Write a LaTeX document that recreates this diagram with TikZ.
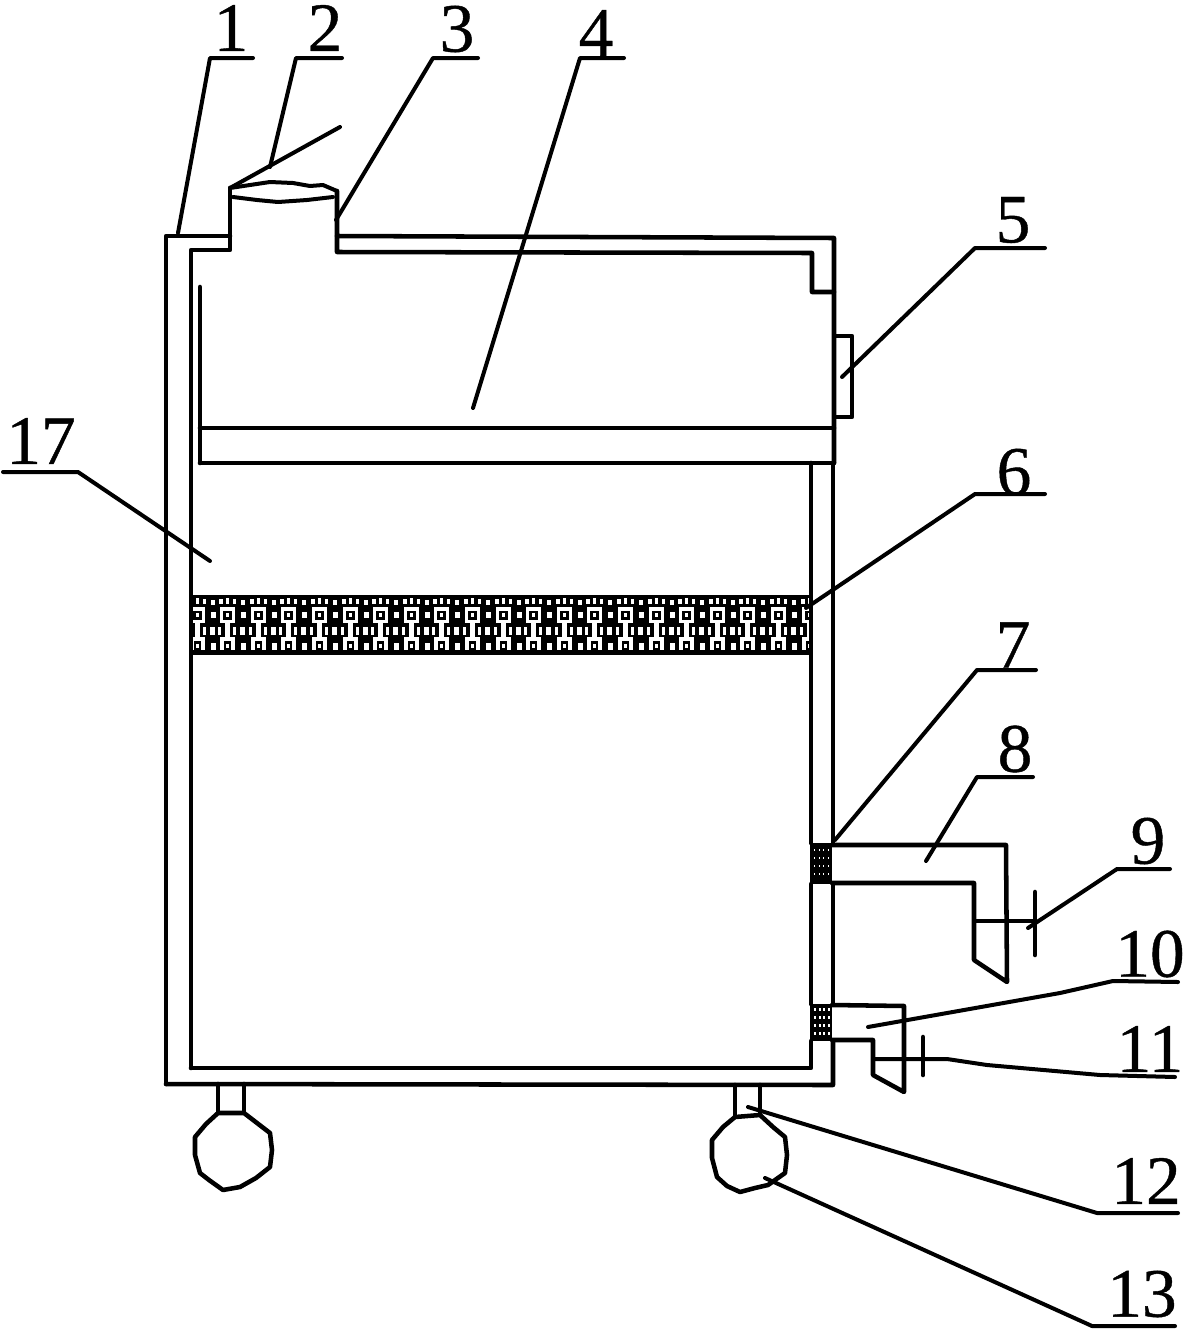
\documentclass[tikz,border=0pt]{standalone}
\usepackage{fontspec}
\setmainfont[FakeBold=0.6]{Liberation Serif}
\usetikzlibrary{shapes.geometric}
\tikzset{
  wall/.style={line width=3.4pt,line join=round,line cap=round},
  thin line/.style={line width=3pt,line join=round,line cap=round},
  num/.style={font=\fontsize{52}{52}\selectfont,inner sep=0pt,text=black},
}
\begin{document}
\begin{tikzpicture}[x=0.75pt,y=-0.75pt]
\useasboundingbox (0,0) rectangle (1185,1332);
% filter
\begin{scope}
\clip (190,595) rectangle (811,655);
\fill[black] (190,595) rectangle (811,655);
\foreach \i in {0,...,20}{
  \pgfmathsetmacro{\xx}{187.5+30.6*\i}
  % top pips
  \fill[white] (\xx+1,599) rectangle +(4,5);
  \fill[white] (\xx+8,598) rectangle +(3,6);
  \fill[white] (\xx+15,599) rectangle +(3,5);
  \fill[white] (\xx+23,600) rectangle +(4,5);
  % ring
  \fill[white] (\xx+2,607) rectangle +(15,16);
  \fill[black] (\xx+5,611) rectangle +(9,9);
  \fill[white] (\xx+8,613) rectangle +(3,4);
  \fill[white] (\xx+23,612) rectangle +(5,6);
  % stem and side bars
  \fill[white] (\xx+7,623) rectangle +(5,15);
  \fill[white] (\xx+0,627) rectangle +(3,8);
  \fill[white] (\xx+15,627) rectangle +(3,8);
  \fill[white] (\xx+22,627) rectangle +(5,8);
  % foot
  \fill[white] (\xx+2,637) rectangle +(15,13);
  \fill[black] (\xx+6,641) rectangle +(7,9);
  \fill[white] (\xx+8,644) rectangle +(3,4);
  \fill[white] (\xx+23,643) rectangle +(5,7);
}
\end{scope}
% dark patches
\fill[black] (810,843) rectangle (832,884);
\fill[black] (810,1004) rectangle (832,1041);
\foreach \a in {0,1,2,3}{\foreach \b in {0,1,2,3}{
  \fill[white] (814+4.5*\a,1008+8*\b) rectangle +(2.2,2.6);
  \fill[white] (814+4.5*\a,849+8*\b) rectangle +(1.2,1.5);
}}
% body
\draw[wall] (191,1068) -- (191,250) -- (230,250) -- (230,188);
\draw[wall] (166,1084) -- (166,236) -- (230,236);
\draw[wall] (337,191) -- (337,252) -- (812,253) -- (812,292) -- (834,292);
\draw[wall] (337,236) -- (834,238) -- (834,463);
\draw[wall] (166,1084) -- (833,1085) -- (833,1041);
\draw[wall] (833,1004) -- (833,884);
\draw[wall] (833,843) -- (833,463);
\draw[wall] (191,1068) -- (811,1068) -- (811,1041);
\draw[wall] (811,1004) -- (811,884);
\draw[wall] (811,843) -- (811,463);
% lid
\draw[thin line] (230,188) -- (340,127);
\draw[thin line] (230,188) -- (250,185) -- (270,182) -- (293,183) -- (310,186) -- (323,185) -- (337,191);
\draw[thin line] (233,197) -- (257,200) -- (278,202) -- (307,200) -- (333,197);
% drawer
\draw[wall] (200,287) -- (200,463);
\draw[wall] (200,428) -- (834,428);
\draw[wall] (200,463) -- (834,463);
% item 5
\draw[wall] (836,336) -- (852,336) -- (852,417) -- (836,417);
% pipe 8
\draw[wall] (832,845) -- (1006,845) -- (1007,982) -- (974,960) -- (974,883) -- (832,883);
\draw[thin line] (974,921) -- (1035,921);
\draw[wall] (1035,892) -- (1035,955);
% pipe 10
\draw[wall] (832,1005) -- (904,1006) -- (904,1092) -- (873,1075) -- (873,1040) -- (832,1040);
\draw[wall] (923,1037) -- (923,1075);
% wheels
\draw[wall] (218,1084) -- (218,1113);
\draw[wall] (244,1084) -- (244,1113);
\draw[wall] (735,1085) -- (735,1117);
\draw[wall] (760,1085) -- (760,1115);
\draw[wall] (218,1113) -- (244,1113) -- (257,1123) -- (270,1133) -- (272,1150) -- (270,1167) -- (256,1178) -- (240,1187) -- (223,1190) -- (209,1180) -- (200,1173) -- (195,1155) -- (195,1137) -- (206,1124) -- cycle;
\draw[wall] (735,1117) -- (760,1115) -- (773,1127) -- (785,1137) -- (787,1155) -- (785,1173) -- (768,1185) -- (755,1188) -- (740,1192) -- (727,1186) -- (717,1177) -- (712,1158) -- (712,1140) -- (723,1127) -- cycle;
% labels
\node[num] (n1) at (231,28) {1};
\node[num] (n2) at (325,28) {2};
\node[num] (n3) at (457,29) {3};
\node[num] (n4) at (596,33) {4};
\node[num] (n5) at (1013,220) {5};
\node[num] (n6) at (1014,472) {6};
\node[num] (n7) at (1013,645) {7};
\node[num] (n8) at (1015,749) {8};
\node[num] (n9) at (1148,841) {9};
\node[num] (n10) at (1150,954) {10};
\node[num] (n11) at (1150,1049) {11};
\node[num] (n12) at (1146,1181) {12};
\node[num] (n13) at (1142,1294) {13};
\node[num] (n17) at (41,441) {17};
% leaders
\draw[thin line] (178,233) -- (210,58) -- (253,58);
\draw[thin line] (270,167) -- (296,58) -- (342,58);
\draw[thin line] (336,220) -- (433,58) -- (478,58);
\draw[thin line] (473,408) -- (580,58) -- (624,58);
\draw[thin line] (842,377) -- (975,248) -- (1045,248);
\draw[thin line] (806,608) -- (975,494) -- (1045,494);
\draw[thin line] (835,840) -- (977,670) -- (1036,670);
\draw[thin line] (926,861) -- (977,777) -- (1033,777);
\draw[thin line] (1028,928) -- (1117,869) -- (1170,869);
\draw[thin line] (868,1027) -- (1060,993) -- (1113,981) -- (1178,982);
\draw[thin line] (873,1059) -- (947,1059) -- (987,1065) -- (1100,1075) -- (1175,1077);
\draw[thin line] (748,1107) -- (1097,1213) -- (1178,1213);
\draw[thin line] (765,1178) -- (1092,1326) -- (1175,1326);
\draw[thin line] (3,472) -- (78,472) -- (210,561);
\end{tikzpicture}
\end{document}
